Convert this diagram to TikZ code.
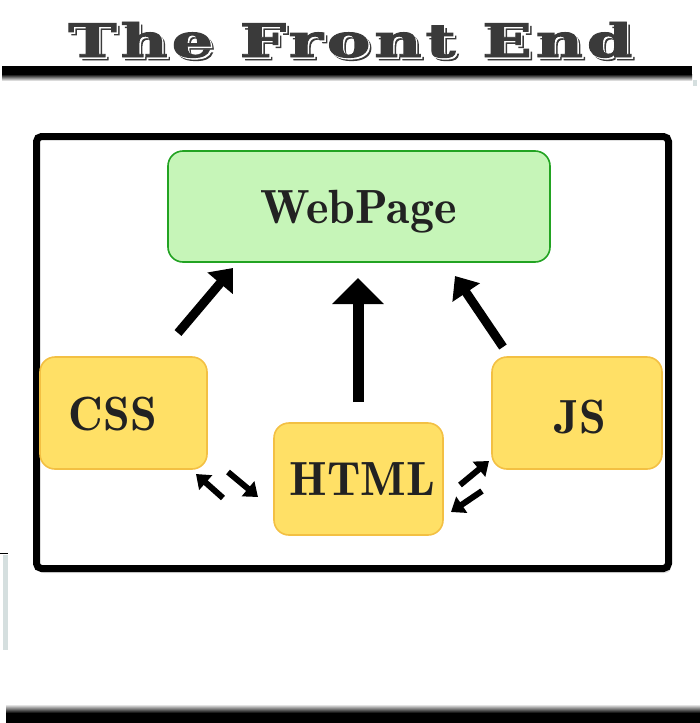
\documentclass[tikz,border=0pt]{standalone}
\usepackage{fontspec}
\usetikzlibrary{arrows.meta}
\newfontfamily\boxfont{Latin Modern Roman Demi}
\newfontfamily\titlefont{DejaVu Serif}[LetterSpace=6,FakeBold=2]
\definecolor{greenfill}{HTML}{C6F5B8}
\definecolor{greenline}{HTML}{22A322}
\definecolor{yellowfill}{HTML}{FFE066}
\definecolor{yellowline}{HTML}{F3C043}
\definecolor{textdark}{HTML}{222222}
\definecolor{titledark}{HTML}{3A3A3A}
\definecolor{stripgray}{HTML}{D5DFDF}
\newcommand\frontendword{\resizebox{564pt}{35pt}{\titlefont\bfseries The Front End}}
\newcommand\frontendtitle{%
  \makebox[0pt][l]{\hspace{3pt}\raisebox{-3pt}{\color{titledark}\frontendword}}%
  \makebox[0pt][l]{\hspace{1.5pt}\raisebox{-1.5pt}{\color{white}\frontendword}}%
  {\color{titledark}\frontendword}}
\tikzset{
  box/.style={draw, line width=1.6pt, rounded corners=15pt, inner sep=0pt},
  webbox/.style={box, fill=greenfill, draw=greenline},
  techbox/.style={box, fill=yellowfill, draw=yellowline},
  boxlabel/.style={anchor=base, inner sep=0pt, font=\boxfont\fontsize{48}{48}\selectfont, text=textdark},
  titlelayer/.style={anchor=base west, inner sep=0pt},
  bigarrow/.style={line width=11pt, -{Triangle[length=26pt,width=50pt]}},
  midarrow/.style={line width=9pt, -{Triangle[length=20pt,width=32pt]}},
  smallarrow/.style={line width=6pt, -{Triangle[length=13pt,width=19pt]}},
}
\begin{document}
\begin{tikzpicture}[x=1pt,y=-1pt]
\fill[white] (0,0) rectangle (700,723);
\useasboundingbox (0,0) rectangle (700,723);
% title
\node[titlelayer] (title) at (68,57) {\frontendtitle};
% top and bottom bars
\fill[black] (2,66) rectangle (692,74);
\shade[top color=black, bottom color=white] (2,74) rectangle (692,81);
\shade[top color=white, bottom color=black] (6,704) rectangle (700,713);
\fill[black] (6,713) rectangle (700,723);
% small edge marks
\draw[black, line width=1pt] (0,553) -- (8,553);
\fill[stripgray] (3,555) rectangle (8,650);
\fill[stripgray] (693,80) rectangle (697,86);
% frame
\fill[black, opacity=0.12, rounded corners=6pt] (38,140) rectangle (671,573);
\node[draw=black, fill=white, line width=7pt, rounded corners=5pt, minimum width=632pt, minimum height=432pt, inner sep=0pt] (frame) at (352.5,352.5) {};
% boxes
\node[webbox, minimum width=382pt, minimum height=111pt] (web) at (359,206.5) {};
\node[techbox, minimum width=167pt, minimum height=112pt] (css) at (123.5,413) {};
\node[techbox, minimum width=169pt, minimum height=112pt] (html) at (358.5,479) {};
\node[techbox, minimum width=170pt, minimum height=112pt] (js) at (577,413) {};
% labels
\node[boxlabel] (webt) at (358.5,223) {WebPage};
\node[boxlabel] (csst) at (113,430) {CSS};
\node[boxlabel] (htmlt) at (362.5,495) {HTML};
\node[boxlabel] (jst) at (580,433) {JS};
% arrow end points
\coordinate (a1s) at (178,333);
\coordinate (a1e) at (233,268);
\coordinate (a2s) at (358,402);
\coordinate (a2e) at (358,278);
\coordinate (a3s) at (503,347);
\coordinate (a3e) at (455,276);
\coordinate (bas) at (223,498);
\coordinate (bae) at (196,474);
\coordinate (bbs) at (228,472);
\coordinate (bbe) at (258,497);
\coordinate (bcs) at (460,485);
\coordinate (bce) at (489,461);
\coordinate (bds) at (482,491);
\coordinate (bde) at (451,512);
% arrows
\draw[midarrow] (a1s) -- (a1e);
\draw[bigarrow] (a2s) -- (a2e);
\draw[midarrow] (a3s) -- (a3e);
\draw[smallarrow] (bas) -- (bae);
\draw[smallarrow] (bbs) -- (bbe);
\draw[smallarrow] (bcs) -- (bce);
\draw[smallarrow] (bds) -- (bde);
\end{tikzpicture}
\end{document}
